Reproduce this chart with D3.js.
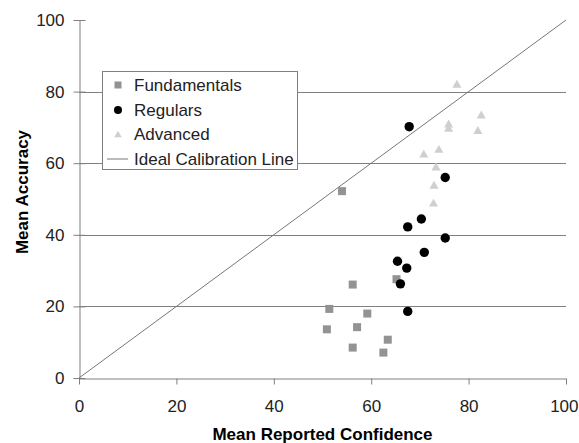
<!DOCTYPE html>
<html>
<head>
<meta charset="utf-8">
<script src="https://cdn.jsdelivr.net/npm/d3@7"></script>
<style>
  body { margin: 0; background: #fff; }
  text { font-family: "Liberation Sans", Arial, sans-serif; }
</style>
</head>
<body>
<div id="chart"></div>
<script>
const fundamentals = [
    [54.0, 52.2], [65.2, 27.6], [56.2, 26.1], [51.4, 19.3], [59.2, 18.0],
    [50.9, 13.6], [57.1, 14.2], [63.4, 10.7], [56.2, 8.5], [62.5, 7.1]
];
const regulars = [
    [67.8, 70.2], [75.2, 56.0], [70.3, 44.4], [67.5, 42.2], [75.2, 39.1],
    [70.9, 35.1], [65.4, 32.6], [67.3, 30.7], [66.0, 26.3], [67.5, 18.6]
];
const advanced = [
    [77.6, 82.1], [82.6, 73.5], [75.9, 71.0], [75.9, 69.8], [81.9, 69.2],
    [70.8, 62.6], [73.9, 63.9], [73.3, 59.0], [72.9, 53.9], [72.8, 48.9]
];
const ticks = [0, 20, 40, 60, 80, 100];
const gridValues = [20, 40, 60, 80];
const legendLabels = ["Fundamentals", "Regulars", "Advanced", "Ideal Calibration Line"];

const width = 579, height = 443;
const margin = {left: 79, right: 13, top: 20, bottom: 65};

const svg = d3.select("#chart").append("svg")
    .attr("width", width)
    .attr("height", height);

const x = d3.scaleLinear().domain([0, 100]).range([margin.left, width - margin.right]);
const y = d3.scaleLinear().domain([0, 100]).range([height - margin.bottom, margin.top]);

// gridlines
svg.append("g").selectAll("line")
    .data(gridValues)
    .enter().append("line")
    .attr("x1", x(0)).attr("x2", x(100))
    .attr("y1", d => Math.round(y(d)) + 0.5)
    .attr("y2", d => Math.round(y(d)) + 0.5)
    .attr("stroke", "#808080")
    .attr("stroke-width", 1);

// axes
const xAxis = svg.append("g")
    .attr("transform", "translate(0," + (Math.round(y(0)) + 0.5) + ")")
    .call(d3.axisBottom(x).tickValues(ticks).tickSize(6).tickSizeOuter(0).tickPadding(15));
const yAxis = svg.append("g")
    .attr("transform", "translate(" + (Math.round(x(0)) + 0.5) + ",0)")
    .call(d3.axisLeft(y).tickValues(ticks).tickSize(6).tickSizeOuter(0).tickPadding(9));

[xAxis, yAxis].forEach(function(a) {
    a.select(".domain").attr("stroke", "#808080");
    a.selectAll(".tick line").attr("stroke", "#808080");
    a.selectAll(".tick text")
        .attr("fill", "#222")
        .style("font-size", "17px")
        .style("font-family", "'Liberation Sans', Arial, sans-serif");
});
// y ticks cross the axis
yAxis.selectAll(".tick line").attr("x1", 6).attr("x2", -6);
// keep the last x label inside the window
xAxis.selectAll(".tick text")
    .filter(d => d === 100)
    .attr("text-anchor", "end")
    .attr("x", 12);

// ideal calibration line
svg.append("line")
    .attr("x1", x(0)).attr("y1", y(0))
    .attr("x2", x(100)).attr("y2", y(100))
    .attr("stroke", "#777")
    .attr("stroke-width", 1);

// markers
const sq = 8, tri = d3.symbol().type(d3.symbolTriangle).size(36);

svg.append("g").selectAll("rect")
    .data(fundamentals)
    .enter().append("rect")
    .attr("x", d => x(d[0]) - sq / 2)
    .attr("y", d => y(d[1]) - sq / 2)
    .attr("width", sq).attr("height", sq)
    .attr("fill", "#939393");

svg.append("g").selectAll("path")
    .data(advanced)
    .enter().append("path")
    .attr("d", tri)
    .attr("transform", d => "translate(" + x(d[0]) + "," + (y(d[1]) + 1) + ")")
    .attr("fill", "#cfcfcf");

svg.append("g").selectAll("circle")
    .data(regulars)
    .enter().append("circle")
    .attr("cx", d => x(d[0]))
    .attr("cy", d => y(d[1]))
    .attr("r", 4.7)
    .attr("fill", "#000");

// legend
const legend = svg.append("g").attr("transform", "translate(102.5,71.5)");
legend.append("rect")
    .attr("width", 195).attr("height", 98)
    .attr("fill", "#fff")
    .attr("stroke", "#808080");

const rowY = [13.5, 38.5, 62.5, 87.5];
legend.selectAll("text")
    .data(legendLabels)
    .enter().append("text")
    .attr("x", 31.5)
    .attr("y", (d, i) => rowY[i])
    .attr("dy", "0.35em")
    .attr("fill", "#222")
    .style("font-size", "17px")
    .text(d => d);

legend.append("rect")
    .attr("x", 12).attr("y", rowY[0] - 3.5)
    .attr("width", 7).attr("height", 7)
    .attr("fill", "#939393");
legend.append("circle")
    .attr("cx", 15.5).attr("cy", rowY[1])
    .attr("r", 4).attr("fill", "#000");
legend.append("path")
    .attr("d", d3.symbol().type(d3.symbolTriangle).size(24))
    .attr("transform", "translate(15.5," + (rowY[2] + 1) + ")")
    .attr("fill", "#cfcfcf");
legend.append("line")
    .attr("x1", 4.5).attr("x2", 25.5)
    .attr("y1", rowY[3]).attr("y2", rowY[3])
    .attr("stroke", "#777");

// axis titles
svg.append("text")
    .attr("x", (x(0) + x(100)) / 2)
    .attr("y", 440)
    .attr("text-anchor", "middle")
    .style("font-size", "17px")
    .style("font-weight", "bold")
    .text("Mean Reported Confidence");

svg.append("text")
    .attr("transform", "translate(28,192) rotate(-90)")
    .attr("text-anchor", "middle")
    .style("font-size", "17px")
    .style("font-weight", "bold")
    .text("Mean Accuracy");
</script>
</body>
</html>
